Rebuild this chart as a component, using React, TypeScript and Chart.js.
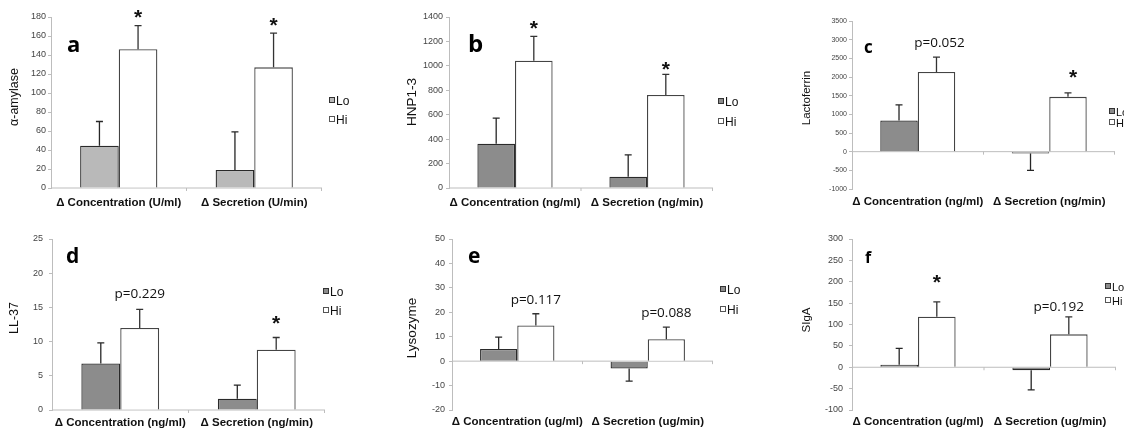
import React, { useEffect, useRef } from "react";
import { Chart, registerables } from "chart.js";

Chart.register(...registerables);

// ---------- data ----------
const seriesNames = ["Lo", "Hi"];

const ugCategories = ["Δ Concentration (U/ml)", "Δ Secretion (U/min)"];
const ngCategories = ["Δ Concentration (ng/ml)", "Δ Secretion (ng/min)"];
const ugmlCategories = ["Δ Concentration (ug/ml)", "Δ Secretion (ug/min)"];

const amylaseLo = [44.5, 19];
const amylaseLoErr = [25.5, 40];
const amylaseHi = [146, 127];
const amylaseHiErr = [25, 36];
const amylaseAxis = [0, 180, 20];

const hnpLo = [362, 92];
const hnpLoErr = [210, 180];
const hnpHi = [1042, 762];
const hnpHiErr = [200, 168];
const hnpAxis = [0, 1400, 200];

const lactoferrinLo = [835, -50];
const lactoferrinLoErr = [420, 450];
const lactoferrinHi = [2135, 1468];
const lactoferrinHiErr = [400, 105];
const lactoferrinAxis = [-1000, 3500, 500];

const ll37Lo = [6.8, 1.65];
const ll37LoErr = [3.0, 2.0];
const ll37Hi = [12.0, 8.8];
const ll37HiErr = [2.7, 1.8];
const ll37Axis = [0, 25, 5];

const lysozymeLo = [5.0, -3.0];
const lysozymeLoErr = [4.8, 5.2];
const lysozymeHi = [14.6, 9.0];
const lysozymeHiErr = [4.8, 4.9];
const lysozymeAxis = [-20, 50, 10];

const sigaLo = [6, -7];
const sigaLoErr = [38, 46];
const sigaHi = [118, 77];
const sigaHiErr = [35, 41];
const sigaAxis = [-100, 300, 50];

// ---------- layout / style ----------
const SANS = '"Liberation Sans", Arial, Helvetica, sans-serif';
const LETTER = '"Open Sans", "Liberation Sans", sans-serif';

type Note = { cat: number; ds: number; text: string; dy: number; dx?: number };

type PanelCfg = {
  x: number; y: number; w: number; h: number;
  padTop: number; padRight: number; yWidth: number; xHeight: number;
  xPad: number; yPad: number; tickSize: number;
  categories: string[];
  lo: number[]; loErr: number[]; hi: number[]; hiErr: number[];
  axis: number[];
  loColor: string;
  title: string; titleX: number; titleY: number; titleSize: number;
  letter: string; letterX: number; letterY: number; letterSize: number;
  legendX: number; legendLoY: number; legendHiY: number; legendSize: number;
  notes: Note[];
};

const panels: PanelCfg[] = [
  {
    x: 0, y: 0, w: 374, h: 218, padTop: 17, padRight: 52, yWidth: 51, xHeight: 30,
    xPad: 8, yPad: 2, tickSize: 9,
    categories: ugCategories, lo: amylaseLo, loErr: amylaseLoErr, hi: amylaseHi, hiErr: amylaseHiErr,
    axis: amylaseAxis, loColor: "#b9b9b9",
    title: "α-amylase", titleX: 15, titleY: 97, titleSize: 12.5,
    letter: "a", letterX: 67, letterY: 52, letterSize: 22,
    legendX: 329, legendLoY: 102, legendHiY: 121, legendSize: 12,
    notes: [
      { cat: 0, ds: 1, text: "*", dy: 14 },
      { cat: 1, ds: 1, text: "*", dy: 13 },
    ],
  },
  {
    x: 374, y: 0, w: 374, h: 218, padTop: 17, padRight: 35, yWidth: 75, xHeight: 30,
    xPad: 8, yPad: 3, tickSize: 9,
    categories: ngCategories, lo: hnpLo, loErr: hnpLoErr, hi: hnpHi, hiErr: hnpHiErr,
    axis: hnpAxis, loColor: "#8c8c8c",
    title: "HNP1-3", titleX: 38, titleY: 102, titleSize: 13.5,
    letter: "b", letterX: 94, letterY: 52, letterSize: 24,
    legendX: 344, legendLoY: 103, legendHiY: 123, legendSize: 12,
    notes: [
      { cat: 0, ds: 1, text: "*", dy: 13.5 },
      { cat: 1, ds: 1, text: "*", dy: 11 },
    ],
  },
  {
    x: 748, y: 0, w: 376, h: 218, padTop: 21, padRight: 9, yWidth: 104, xHeight: 29,
    xPad: 6, yPad: 2, tickSize: 7,
    categories: ngCategories, lo: lactoferrinLo, loErr: lactoferrinLoErr, hi: lactoferrinHi, hiErr: lactoferrinHiErr,
    axis: lactoferrinAxis, loColor: "#8c8c8c",
    title: "Lactoferrin", titleX: 59, titleY: 98, titleSize: 11.5,
    letter: "c", letterX: 116, letterY: 53, letterSize: 17,
    legendX: 361, legendLoY: 113, legendHiY: 124, legendSize: 11,
    notes: [
      { cat: 0, ds: 1, text: "p=0.052", dy: 14, dx: 3 },
      { cat: 1, ds: 1, text: "*", dy: 21, dx: 5 },
    ],
  },
  {
    x: 0, y: 218, w: 374, h: 218, padTop: 21, padRight: 49, yWidth: 52, xHeight: 26,
    xPad: 6, yPad: 6, tickSize: 9,
    categories: ngCategories, lo: ll37Lo, loErr: ll37LoErr, hi: ll37Hi, hiErr: ll37HiErr,
    axis: ll37Axis, loColor: "#8c8c8c",
    title: "LL-37", titleX: 15, titleY: 100, titleSize: 12.5,
    letter: "d", letterX: 66, letterY: 45, letterSize: 21,
    legendX: 323, legendLoY: 75, legendHiY: 94, legendSize: 12,
    notes: [
      { cat: 0, ds: 1, text: "p=0.229", dy: 15.5 },
      { cat: 1, ds: 1, text: "*", dy: 20 },
    ],
  },
  {
    x: 374, y: 218, w: 374, h: 218, padTop: 21, padRight: 35, yWidth: 78, xHeight: 26,
    xPad: 5, yPad: 4, tickSize: 9,
    categories: ugmlCategories, lo: lysozymeLo, loErr: lysozymeLoErr, hi: lysozymeHi, hiErr: lysozymeHiErr,
    axis: lysozymeAxis, loColor: "#8c8c8c",
    title: "Lysozyme", titleX: 38, titleY: 110, titleSize: 13.5,
    letter: "e", letterX: 94, letterY: 45, letterSize: 21,
    legendX: 346, legendLoY: 73, legendHiY: 93, legendSize: 12,
    notes: [
      { cat: 0, ds: 1, text: "p=0.117", dy: 13.7 },
      { cat: 1, ds: 1, text: "p=0.088", dy: 14 },
    ],
  },
  {
    x: 748, y: 218, w: 376, h: 218, padTop: 21, padRight: 8, yWidth: 104, xHeight: 26,
    xPad: 5, yPad: 6, tickSize: 9,
    categories: ugmlCategories, lo: sigaLo, loErr: sigaLoErr, hi: sigaHi, hiErr: sigaHiErr,
    axis: sigaAxis, loColor: "#8c8c8c",
    title: "SIgA", titleX: 59, titleY: 102, titleSize: 11.5,
    letter: "f", letterX: 117, letterY: 45, letterSize: 16,
    legendX: 357, legendLoY: 70, legendHiY: 84, legendSize: 11,
    notes: [
      { cat: 0, ds: 1, text: "*", dy: 25 },
      { cat: 1, ds: 1, text: "p=0.192", dy: 10, dx: -10 },
    ],
  },
];

function makeDecor(p: PanelCfg) {
  const errs = [p.loErr, p.hiErr];
  return {
    id: "decor",
    beforeDatasetsDraw(chart: any) {
      const { ctx, chartArea } = chart;
      const ys = chart.scales.y;
      const xs = chart.scales.x;
      const y0 = ys.getPixelForValue(0);
      ctx.save();
      ctx.strokeStyle = "#bdbdbd";
      ctx.lineWidth = 1;
      ctx.beginPath();
      ctx.moveTo(chartArea.left, y0);
      ctx.lineTo(chartArea.right, y0);
      const mid = xs.getPixelForValue(0.5);
      ctx.moveTo(mid, y0);
      ctx.lineTo(mid, y0 + 3);
      ctx.moveTo(chartArea.right - 0.5, y0);
      ctx.lineTo(chartArea.right - 0.5, y0 + 3);
      ctx.stroke();
      ctx.restore();
    },
    afterDatasetsDraw(chart: any) {
      const { ctx } = chart;
      const ys = chart.scales.y;
      ctx.save();
      ctx.lineWidth = 1.3;
      chart.data.datasets.forEach((ds: any, di: number) => {
        const meta = chart.getDatasetMeta(di);
        ctx.strokeStyle = di === 0 ? "#262626" : "#333333";
        meta.data.forEach((el: any, i: number) => {
          const v = ds.data[i];
          const e = errs[di][i];
          const end = ys.getPixelForValue(v + (v < 0 ? -e : e));
          ctx.beginPath();
          ctx.moveTo(el.x, el.y);
          ctx.lineTo(el.x, end);
          ctx.moveTo(el.x - 3.5, end);
          ctx.lineTo(el.x + 3.5, end);
          ctx.stroke();
        });
      });
      ctx.restore();
    },
    afterDraw(chart: any) {
      const { ctx } = chart;
      const ys = chart.scales.y;
      ctx.save();
      // y axis title
      ctx.save();
      ctx.translate(p.titleX, p.titleY);
      ctx.rotate(-Math.PI / 2);
      ctx.fillStyle = "#111";
      ctx.font = `${p.titleSize}px ${SANS}`;
      ctx.textAlign = "center";
      ctx.textBaseline = "middle";
      ctx.fillText(p.title, 0, 0);
      ctx.restore();
      // panel letter
      ctx.fillStyle = "#000";
      ctx.font = `bold ${p.letterSize}px ${LETTER}`;
      ctx.textAlign = "left";
      ctx.textBaseline = "alphabetic";
      ctx.fillText(p.letter, p.letterX, p.letterY);
      // legend
      const items = [
        { name: seriesNames[0], fill: p.loColor, stroke: "#333", y: p.legendLoY },
        { name: seriesNames[1], fill: "#fff", stroke: "#555", y: p.legendHiY },
      ];
      items.forEach((it) => {
        ctx.fillStyle = it.fill;
        ctx.strokeStyle = it.stroke;
        ctx.lineWidth = 1;
        ctx.fillRect(p.legendX + 0.5, it.y - 4.5, 5, 5);
        ctx.strokeRect(p.legendX + 0.5, it.y - 4.5, 5, 5);
        ctx.fillStyle = "#111";
        ctx.font = `${p.legendSize}px ${SANS}`;
        ctx.textBaseline = "middle";
        ctx.fillText(it.name, p.legendX + 7, it.y);
      });
      // annotations
      p.notes.forEach((n) => {
        const meta = chart.getDatasetMeta(n.ds);
        const el: any = meta.data[n.cat];
        const v = chart.data.datasets[n.ds].data[n.cat] as number;
        const e = errs[n.ds][n.cat];
        const top = ys.getPixelForValue(v + (v < 0 ? -e : e));
        const cx = el.x + (n.dx || 0);
        const cy = top - n.dy;
        ctx.fillStyle = "#111";
        ctx.textAlign = "center";
        if (n.text === "*") {
          const size = 21;
          ctx.font = `bold ${size}px ${SANS}`;
          ctx.textBaseline = "alphabetic";
          ctx.fillText("*", cx, cy + 0.58 * size);
        } else {
          ctx.font = `13.5px ${LETTER}`;
          ctx.textBaseline = "middle";
          ctx.fillText(n.text, cx, cy);
        }
      });
      ctx.restore();
    },
  };
}

function Panel({ p }: { p: PanelCfg }) {
  const ref = useRef<HTMLCanvasElement | null>(null);
  useEffect(() => {
    if (!ref.current) return;
    const chart = new Chart(ref.current, {
      type: "bar",
      data: {
        labels: p.categories,
        datasets: [
          {
            label: seriesNames[0],
            data: p.lo,
            backgroundColor: p.loColor,
            borderColor: "#2a2a2a",
            borderWidth: 1.3,
            barPercentage: 1,
            categoryPercentage: 0.57,
          },
          {
            label: seriesNames[1],
            data: p.hi,
            backgroundColor: "#ffffff",
            borderColor: "#444444",
            borderWidth: 1.3,
            barPercentage: 1,
            categoryPercentage: 0.57,
          },
        ],
      },
      options: {
        animation: false,
        responsive: false,
        maintainAspectRatio: false,
        layout: { padding: { left: 0, top: p.padTop, right: p.padRight, bottom: 0 } },
        plugins: {
          legend: { display: false },
          tooltip: { enabled: false },
          title: { display: false },
        },
        scales: {
          x: {
            type: "category",
            grid: { display: false, drawTicks: false },
            border: { display: false },
            ticks: {
              font: { family: SANS, size: 11.5, weight: "bold" },
              color: "#111",
              padding: p.xPad,
              maxRotation: 0,
              autoSkip: false,
            },
            afterFit: (s: any) => {
              s.height = p.xHeight;
            },
          },
          y: {
            min: p.axis[0],
            max: p.axis[1],
            ticks: {
              stepSize: p.axis[2],
              font: { family: SANS, size: p.tickSize },
              color: "#444",
              padding: p.yPad,
              callback: (v: any) => String(v),
            },
            grid: { drawOnChartArea: false, drawTicks: true, tickLength: 3, color: "#bdbdbd" },
            border: { display: true, color: "#bdbdbd" },
            afterFit: (s: any) => {
              s.width = p.yWidth;
            },
          },
        },
      } as any,
      plugins: [makeDecor(p)],
    });
    return () => chart.destroy();
  }, [p]);
  return (
    <canvas
      ref={ref}
      width={p.w}
      height={p.h}
      style={{ position: "absolute", left: p.x, top: p.y, width: p.w, height: p.h }}
    />
  );
}

export default function App() {
  return (
    <div style={{ position: "absolute", left: 0, top: 0, width: 1124, height: 436, background: "#fff", overflow: "hidden" }}>
      {panels.map((p, i) => (
        <Panel key={i} p={p} />
      ))}
    </div>
  );
}
